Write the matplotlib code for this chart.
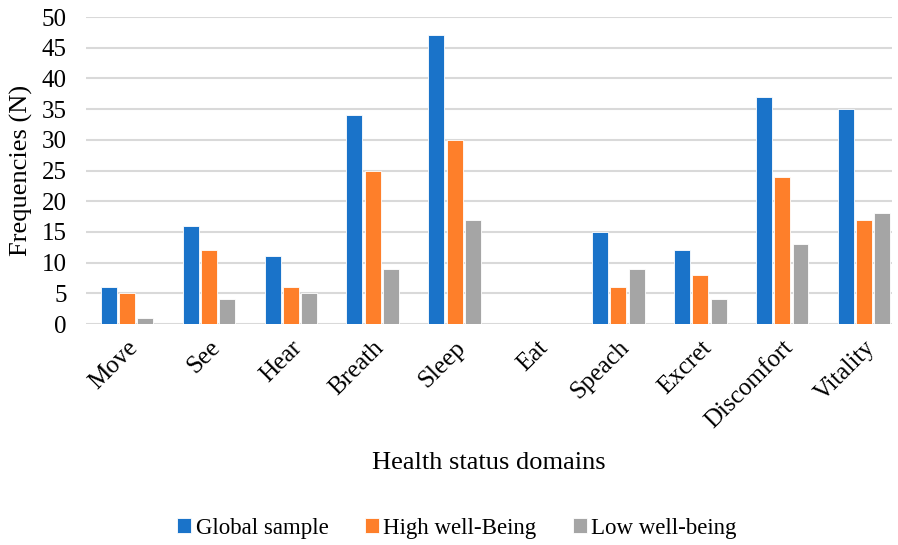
import numpy as np
import matplotlib
matplotlib.use("Agg")
import matplotlib.pyplot as plt

categories = ["Move", "See", "Hear", "Breath", "Sleep", "Eat", "Speach",
              "Excret", "Discomfort", "Vitality"]
global_sample = [6, 16, 11, 34, 47, 0, 15, 12, 37, 35]
high_wellbeing = [5, 12, 6, 25, 30, 0, 6, 8, 24, 17]
low_wellbeing = [1, 4, 5, 9, 17, 0, 9, 4, 13, 18]
series_names = ["Global sample", "High well-Being", "Low well-being"]
colors = ["#1a73c9", "#fe7f2a", "#a5a5a5"]

plt.rcParams["font.family"] = ["Liberation Serif", "DejaVu Serif"]

fig = plt.figure(figsize=(8.98, 5.45), dpi=100)
ax = fig.add_axes([0.0958, 0.4055, 0.8975, 0.5633])

x = np.arange(len(categories))
step = 0.223
for k, (vals, name, col) in enumerate(zip([global_sample, high_wellbeing, low_wellbeing],
                                          series_names, colors)):
    ax.bar(x + (k - 1) * step, vals, width=0.195, color=col, label=name,
           edgecolor="white", linewidth=0.6, zorder=3)

ax.set_ylim(0, 50)
ax.set_yticks(range(0, 51, 5))
ax.set_xlim(-0.5, 9.34)
ax.set_xticks(x)
ax.set_xticklabels(categories, rotation=45, ha="right", rotation_mode="anchor")
ax.tick_params(axis="both", length=0, labelsize=18)
ax.tick_params(axis="y", pad=14)
ax.tick_params(axis="x", pad=9)

ax.grid(axis="y", color="#d9d9d9", linewidth=1.5, zorder=0)
for s in ax.spines.values():
    s.set_visible(False)

ax.set_ylabel("Frequencies (N)", fontsize=19, labelpad=6)
ax.set_xlabel("Health status domains", fontsize=19, labelpad=14)

fig.legend(loc="center", bbox_to_anchor=(0.509, 0.031), ncol=3, frameon=False,
           fontsize=16.5, handlelength=0.6, handleheight=0.6, handletextpad=0.2,
           columnspacing=1.6)

fig.savefig("out.png", dpi=100)
